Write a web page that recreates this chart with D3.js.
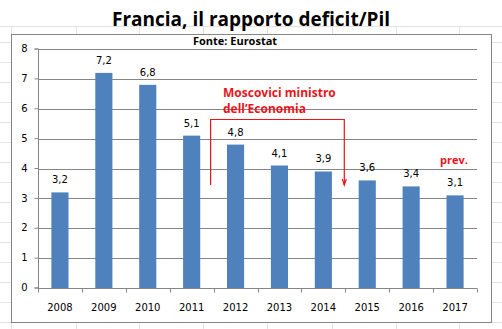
<!DOCTYPE html>
<html><head><meta charset="utf-8">
<script src="https://cdnjs.cloudflare.com/ajax/libs/d3/7.8.5/d3.min.js"></script>
<style>html,body{margin:0;padding:0;background:#fff;}svg{display:block;}</style>
</head><body>
<svg id="c" width="502" height="329"></svg>
<script>
const years = ["2008","2009","2010","2011","2012","2013","2014","2015","2016","2017"];
const deficit = [3.2, 7.2, 6.8, 5.1, 4.8, 4.1, 3.9, 3.6, 3.4, 3.1];
const yTicks = [0,1,2,3,4,5,6,7,8];
const title = "Francia, il rapporto deficit/Pil";
const subtitle = "Fonte: Eurostat";
const noteLines = ["Moscovici ministro", "dell\u2019Economia"];
const noteStart = "2012", noteEnd = "2015";
const prevLabel = "prev.";

const svg = d3.select("#c");
const W = 502, H = 329;
const fmt = v => String(v).replace(".", ",");

// faint spreadsheet grid in background
const sheet = svg.append("g").attr("stroke", "#e2e2e2").attr("stroke-width", 1);
const cols = [11, 76, 139, 203, 267, 332, 396, 459];
const rows = d3.range(42, 329, 20);
cols.forEach(x => sheet.append("line").attr("x1", x + .5).attr("x2", x + .5).attr("y1", 26).attr("y2", H));
[26].concat(rows).forEach(y => sheet.append("line").attr("x1", 0).attr("x2", W).attr("y1", y + .5).attr("y2", y + .5));

// chart area box
svg.append("rect").attr("x", 11.5).attr("y", 34.5).attr("width", 480).attr("height", 288)
  .attr("fill", "#fff").attr("stroke", "#868686").attr("stroke-width", 1);

// title box (white, covers sheet grid)
svg.append("rect").attr("x", 0).attr("y", 0).attr("width", W).attr("height", 26).attr("fill", "#fff");
svg.append("text").attr("x", 251).attr("y", 26).attr("text-anchor", "middle")
  .attr("font-family", "'Open Sans', sans-serif").attr("font-weight", "bold").attr("font-size", 19)
  .attr("fill", "#000").text(title);

svg.append("text").attr("x", 235).attr("y", 45).attr("text-anchor", "middle")
  .attr("font-family", "'Open Sans', sans-serif").attr("font-weight", "bold").attr("font-size", 11)
  .attr("fill", "#000").text(subtitle);

const L = 38, R = 477, T = 49, B = 288;
const x = d3.scaleBand().domain(years).range([L, R]).paddingInner(0.61).paddingOuter(0.305);
const y = d3.scaleLinear().domain([0, 8]).range([B, T]);

// gridlines
const grid = svg.append("g");
grid.selectAll("line").data(yTicks.filter(t => t > 0)).join("line")
  .attr("x1", L).attr("x2", R).attr("y1", d => Math.round(y(d)) + .5).attr("y2", d => Math.round(y(d)) + .5)
  .attr("stroke", "#868686").attr("stroke-width", 1);

// y axis
const yAxis = svg.append("g").attr("transform", `translate(${L + .5},0)`)
  .call(d3.axisLeft(y).tickValues(yTicks).tickSize(4).tickPadding(7).tickFormat(d3.format("d")).offset(0));
yAxis.selectAll("path,line").attr("stroke", "#868686");
yAxis.selectAll("text").attr("font-family", "'DejaVu Sans', sans-serif").attr("font-size", 10).attr("fill", "#000");

// bars
svg.append("g").selectAll("rect").data(years.map((yr, i) => ({yr, v: deficit[i]}))).join("rect")
  .attr("x", d => x(d.yr)).attr("width", x.bandwidth())
  .attr("y", d => y(d.v)).attr("height", d => y(0) - y(d.v))
  .attr("fill", "#4f81bd");

// value labels
svg.append("g").selectAll("text").data(years.map((yr, i) => ({yr, v: deficit[i]}))).join("text")
  .attr("x", d => x(d.yr) + x.bandwidth() / 2).attr("y", d => y(d.v) - 9)
  .attr("text-anchor", "middle").attr("font-family", "'DejaVu Sans', sans-serif").attr("font-size", 10)
  .attr("fill", "#000").text(d => fmt(d.v));

// x axis
const xb = svg.append("g").attr("transform", `translate(0,${B + .5})`);
xb.append("line").attr("x1", L).attr("x2", R).attr("stroke", "#868686");
const step = x.step();
xb.selectAll("line.t").data(d3.range(years.length + 1)).join("line").attr("class", "t")
  .attr("x1", i => Math.round(L + i * step) + .5).attr("x2", i => Math.round(L + i * step) + .5)
  .attr("y1", 0).attr("y2", 4).attr("stroke", "#868686");
xb.selectAll("text").data(years).join("text")
  .attr("x", d => x(d) + x.bandwidth() / 2).attr("y", 22).attr("text-anchor", "middle")
  .attr("font-family", "'DejaVu Sans', sans-serif").attr("font-size", 10).attr("fill", "#000").text(d => d);

// annotation bracket
const red = "#e8151b";
const ax1 = L + years.indexOf(noteStart) * step - 3;
const ax2 = L + years.indexOf(noteEnd) * step - 1;
const ay = 119.5, ayB = 185;
const ann = svg.append("g").attr("stroke", red).attr("stroke-width", 1.2).attr("fill", "none");
ann.append("path").attr("d", `M${ax1},${ayB}V${ay}H${ax2}V${ayB}`);
ann.append("path").attr("d", `M${ax2 - 2},${ayB - 6}L${ax2},${ayB}L${ax2 + 2},${ayB - 6}`);
const nt = svg.append("text").attr("x", 223).attr("y", 97)
  .attr("font-family", "'Open Sans', sans-serif").attr("font-weight", "bold").attr("font-size", 12)
  .attr("fill", red);
noteLines.forEach((s, i) => nt.append("tspan").attr("x", 223).attr("dy", i ? 16 : 0).text(s));

svg.append("text").attr("x", 440).attr("y", 164)
  .attr("font-family", "'Open Sans', sans-serif").attr("font-weight", "bold").attr("font-size", 11)
  .attr("fill", red).text(prevLabel);
</script>
</body></html>
